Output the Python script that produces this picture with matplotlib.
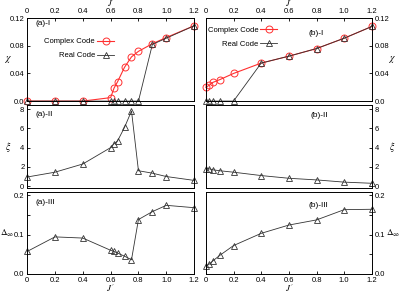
import matplotlib.pyplot as plt

plt.rcParams['font.family'] = ['Liberation Sans', 'DejaVu Sans']
plt.rcParams['mathtext.fontset'] = 'stix'

# (a) panels
xa = [0, 0.2, 0.4, 0.6, 0.625, 0.65, 0.7, 0.75, 0.8, 0.9, 1.0, 1.2]
chi_a_complex = [0, 0, 0, 0.005, 0.019, 0.028, 0.049, 0.064, 0.072, 0.083, 0.092, 0.109]
chi_a_real = [0, 0, 0, 0, 0, 0, 0, 0, 0, 0.082, 0.091, 0.109]
xi_a = [0.95, 1.45, 2.3, 4.0, 4.4, 4.7, 6.1, 7.8, 1.6, 1.35, 1.0, 0.6]
delta_a = [0.057, 0.094, 0.091, 0.060, 0.057, 0.053, 0.045, 0.036, 0.138, 0.158, 0.174, 0.168]

# (b) panels
xb = [0, 0.025, 0.05, 0.1, 0.2, 0.4, 0.6, 0.8, 1.0, 1.2]
chi_b_complex = [0.020, 0.023, 0.027, 0.031, 0.040, 0.055, 0.065, 0.076, 0.091, 0.108]
chi_b_real = [0, 0, 0, 0, 0, 0.055, 0.065, 0.076, 0.091, 0.108]
xi_b = [1.8, 1.8, 1.7, 1.6, 1.45, 1.1, 0.82, 0.65, 0.42, 0.3]
delta_b = [0.020, 0.025, 0.033, 0.047, 0.072, 0.103, 0.124, 0.137, 0.163, 0.164]

xticks = [0, 0.2, 0.4, 0.6, 0.8, 1.0, 1.2]
xticklabels = ['0', '0.2', '0.4', '0.6', '0.8', '1.0', '1.2']

fig = plt.figure(figsize=(3.99, 2.93), dpi=100)

cols = [(0.068, 0.4185), (0.516, 0.416)]
rows = [(0.655, 0.283), (0.358, 0.283), (0.065, 0.28)]

axes = [[fig.add_axes([c[0], r[0], c[1], r[1]]) for c in cols] for r in rows]

red = '#ff3030'
blk = '#333333'
circ = dict(marker='o', ms=5, mfc='none', mec=red, mew=0.7, color=red, lw=0.8, clip_on=False)
tri = dict(marker='^', ms=5, mfc='none', mec=blk, mew=0.6, color=blk, lw=0.6, clip_on=False)

ax = axes[0][0]
ax.plot(xa, chi_a_complex, label='Complex Code', **circ)
ax.plot(xa, chi_a_real, label='Real Code', **tri)
ax = axes[0][1]
ax.plot(xb, chi_b_complex, label='Complex Code', **circ)
ax.plot(xb, chi_b_real, label='Real Code', **tri)
axes[1][0].plot(xa, xi_a, **tri)
axes[1][1].plot(xb, xi_b, **tri)
axes[2][0].plot(xa, delta_a, **tri)
axes[2][1].plot(xb, delta_b, **tri)

ylims = [(0, 0.12), (-0.2, 8.4), (0, 0.208)]
yticks = [[0, 0.04, 0.08, 0.12], [0, 2, 4, 6, 8], [0, 0.05, 0.1, 0.15, 0.2]]
yticklabels = [['0.0', '0.04', '0.08', '0.12'], ['0', '2', '4', '6', '8'],
               ['0.0', '', '0.1', '', '0.2']]
ylabels = [r'$\chi$', r'$\xi$', r'$\Delta_\infty$']
ylab_left = [-0.114, -0.114, -0.118]
ylab_right = [1.12, 1.125, 1.127]
tags = [['(a)-I', '(b)-I'], ['(a)-II', '(b)-II'], ['(a)-III', '(b)-III']]
tagpos = [[(0.05, 0.93), (0.62, 0.82)], [(0.05, 0.89), (0.63, 0.88)],
          [(0.05, 0.87), (0.62, 0.84)]]

for i in range(3):
    for j in range(2):
        ax = axes[i][j]
        ax.set_xlim(0, 1.2)
        ax.set_ylim(*ylims[i])
        ax.set_xticks(xticks)
        ax.set_yticks(yticks[i])
        ax.set_yticklabels(yticklabels[i])
        ax.tick_params(direction='in', length=2.5, width=0.6, labelsize=5.5, pad=2)
        for s in ax.spines.values():
            s.set_linewidth(0.7)
        fs = 6.5 if i == 2 else 7
        if j == 1:
            ax.yaxis.tick_right()
            ax.yaxis.set_label_position('right')
            ax.set_ylabel(ylabels[i], rotation=0, fontsize=fs, ha='center', va='center')
            ax.yaxis.set_label_coords(ylab_right[i], 0.5)
        else:
            ax.set_ylabel(ylabels[i], rotation=0, fontsize=fs, ha='center', va='center')
            ax.yaxis.set_label_coords(ylab_left[i], 0.5)
        if i == 0:
            ax.xaxis.tick_top()
            ax.xaxis.set_label_position('top')
            ax.set_xticklabels(xticklabels)
            ax.set_xlabel(r"$J'$", fontsize=6)
            ax.xaxis.set_label_coords(0.5, 1.13)
        elif i == 2:
            ax.set_xticklabels(xticklabels)
            ax.set_xlabel(r"$J'$", fontsize=6.5)
            ax.xaxis.set_label_coords(0.5, -0.11)
        else:
            ax.tick_params(axis='x', bottom=False, labelbottom=False)
        tx, ty = tagpos[i][j]
        ax.text(tx, ty, tags[i][j], transform=ax.transAxes, fontsize=6, va='center')

axes[0][0].legend(loc='upper right', bbox_to_anchor=(0.52, 0.76), markerfirst=False,
                  frameon=False, fontsize=5.5, handlelength=2.2, handletextpad=0.3,
                  labelspacing=0.85, borderpad=0, borderaxespad=0)
axes[0][1].legend(loc='upper right', bbox_to_anchor=(0.43, 0.9), markerfirst=False,
                  frameon=False, fontsize=5.5, handlelength=2.2, handletextpad=0.3,
                  labelspacing=0.85, borderpad=0, borderaxespad=0)

fig.savefig('out.png', dpi=100)
